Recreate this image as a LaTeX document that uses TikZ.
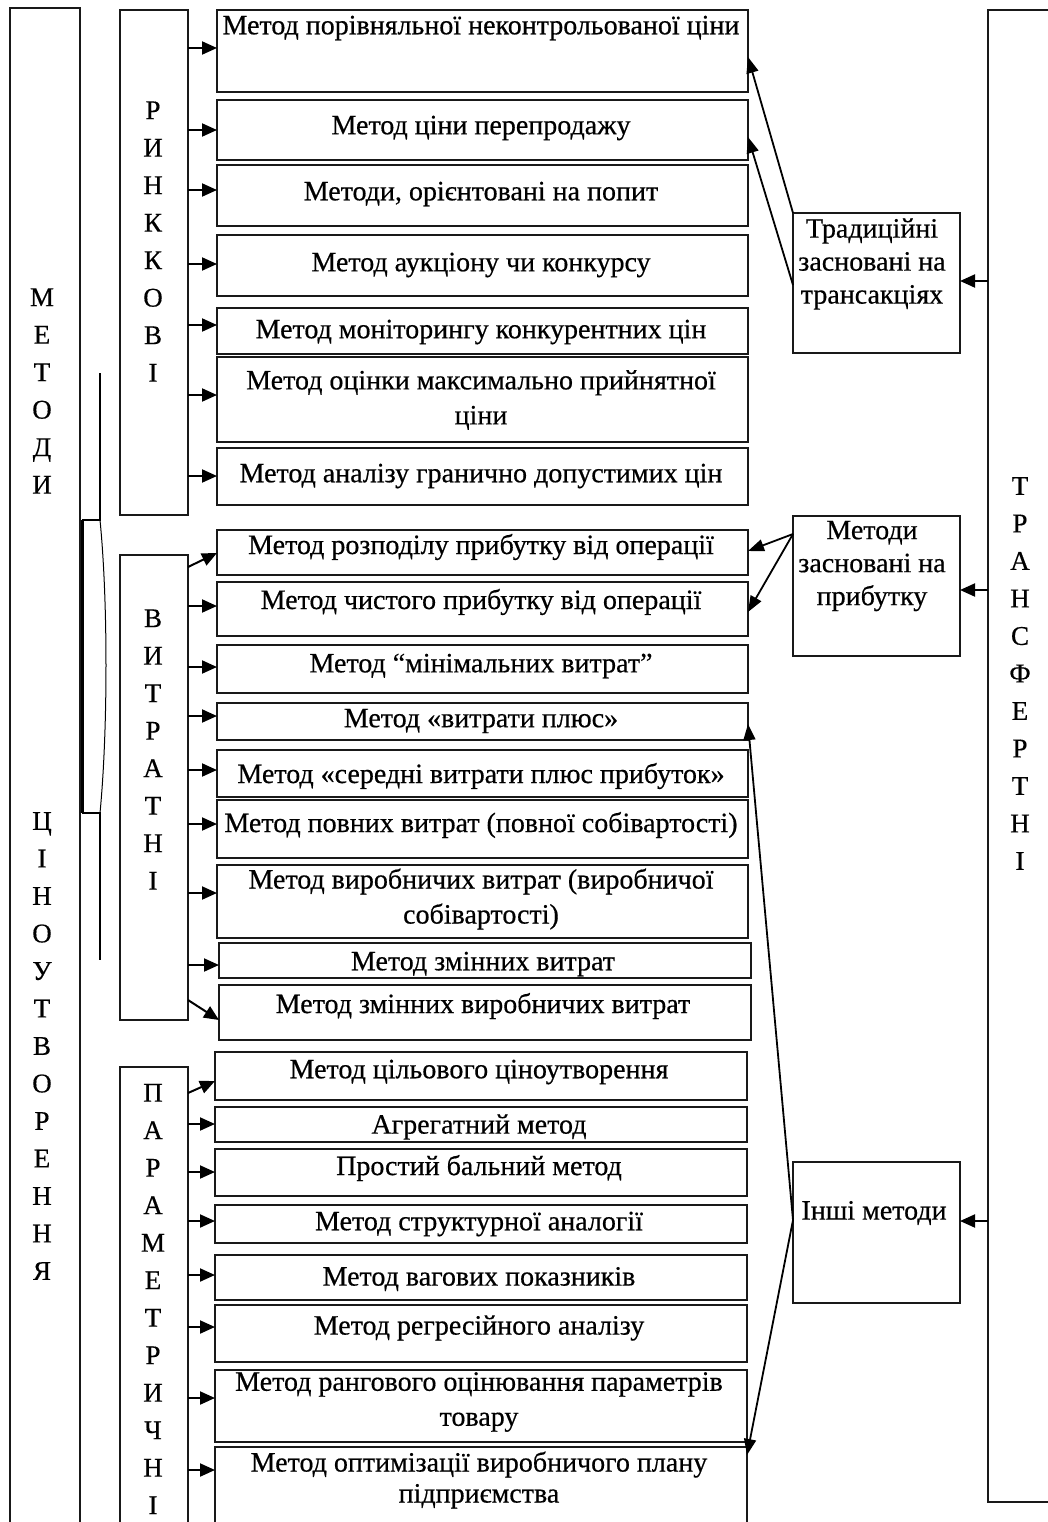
\documentclass[tikz,border=0pt]{standalone}
\usepackage{fontspec}
\setmainfont{Liberation Serif}[FakeBold=0.5]
\usetikzlibrary{arrows.meta}
\newcommand\fsz{\fontsize{28}{35}\selectfont}
\newcommand\vfsz{\fontsize{27}{37.5}\selectfont}
\newcommand\rfsz{\fontsize{28}{33}\selectfont}
\newcommand\bx[5]{\node[box, minimum width={(#4-#2)*1pt}, minimum height={(#5-#3)*1pt}] (#1) at ({(#2+#4)/2},{(#3+#5)/2}) {};}
\begin{document}
\begin{tikzpicture}[x=1pt,y=-1pt,
  box/.style={draw=black!90, line width=2.1pt, inner sep=0pt, outer sep=0pt},
  txt/.style={font=\fsz, inner sep=0pt, align=center},
  vtxt/.style={font=\vfsz, inner sep=0pt, align=center},
  rtxt/.style={font=\rfsz, inner sep=0pt, align=center},
  arr/.style={line width=2pt, -{Triangle[length=15pt,width=13pt]}},
  link/.style={line width=1.8pt, -{Triangle[length=16pt,width=12pt]}}]
\useasboundingbox (0,0) rectangle (1048,1522);
\fill[white] (0,0) rectangle (1048,1522);

% big side boxes
\bx{meth}{10}{8}{80}{1545}
\bx{trans}{988}{10}{1070}{1502}
\node[vtxt] (methA) at (42,391) {М\\Е\\Т\\О\\Д\\И};
\node[vtxt] (methB) at (42,1046) {Ц\\І\\Н\\О\\У\\Т\\В\\О\\Р\\Е\\Н\\Н\\Я};
\node[vtxt] (transT) at (1020,673.5) {Т\\Р\\А\\Н\\С\\Ф\\Е\\Р\\Т\\Н\\І};

% bracket
\draw[line width=1.6pt] (100,373) -- (100,520) -- (82,520);
\draw[line width=3pt] (82,520) -- (82,813);
\draw[line width=1.6pt] (82,813) -- (100,813) -- (100,960);
\draw[line width=1pt] (100,520) .. controls (108,600) and (108,730) .. (100,813);

% category boxes
\bx{rink}{120}{10}{188}{515}
\bx{vitr}{120}{555}{188}{1020}
\bx{param}{120}{1067}{188}{1545}
\node[vtxt] (rinkT) at (153,241.5) {Р\\И\\Н\\К\\К\\О\\В\\І};
\node[vtxt] (vitrT) at (153,749.5) {В\\И\\Т\\Р\\А\\Т\\Н\\І};
\node[vtxt] (paramT) at (153,1299) {П\\А\\Р\\А\\М\\Е\\Т\\Р\\И\\Ч\\Н\\І};

% method boxes
\bx{m1}{217}{10}{748}{92}
\bx{m2}{217}{100}{748}{160}
\bx{m3}{217}{165}{748}{226}
\bx{m4}{217}{235}{748}{296}
\bx{m5}{217}{308}{748}{354}
\bx{m6}{217}{357}{748}{442}
\bx{m7}{217}{448}{748}{505}
\bx{m8}{217}{530}{748}{575}
\bx{m9}{217}{582}{748}{636}
\bx{m10}{217}{645}{748}{693}
\bx{m11}{217}{703}{748}{740}
\bx{m12}{217}{750}{748}{797}
\bx{m13}{217}{800}{748}{858}
\bx{m14}{217}{865}{748}{938}
\bx{m15}{219}{943}{751}{978}
\bx{m16}{219}{985}{751}{1040}
\bx{m17}{215}{1052}{747}{1100}
\bx{m18}{215}{1107}{747}{1142}
\bx{m19}{215}{1149}{747}{1196}
\bx{m20}{215}{1205}{747}{1243}
\bx{m21}{215}{1255}{747}{1300}
\bx{m22}{215}{1305}{747}{1362}
\bx{m23}{215}{1370}{747}{1442}
\bx{m24}{215}{1447}{747}{1545}

\node[txt] (t1) at (481,28) {Метод порівняльної неконтрольованої ціни};
\node[txt] (t2) at (481,128) {Метод ціни перепродажу};
\node[txt] (t3) at (481,194) {Методи, орієнтовані на попит};
\node[txt] (t4) at (481,265) {Метод аукціону чи конкурсу};
\node[txt] (t5) at (481,332) {Метод моніторингу конкурентних цін};
\node[txt] (t6) at (481,400) {Метод оцінки максимально прийнятної\\ціни};
\node[txt] (t7) at (481,476) {Метод аналізу гранично допустимих цін};
\node[txt] (t8) at (481,547) {Метод розподілу прибутку від операції};
\node[txt] (t9) at (481,602) {Метод чистого прибутку від операції};
\node[txt] (t10) at (481,666) {Метод “мінімальних витрат”};
\node[txt] (t11) at (481,721) {Метод «витрати плюс»};
\node[txt] (t12) at (481,776) {Метод «середні витрати плюс прибуток»};
\node[txt] (t13) at (481,825) {Метод повних витрат (повної собівартості)};
\node[txt] (t14) at (481,899) {Метод виробничих витрат (виробничої\\собівартості)};
\node[txt] (t15) at (483,964) {Метод змінних витрат};
\node[txt] (t16) at (483,1006) {Метод змінних виробничих витрат};
\node[txt] (t17) at (479,1072) {Метод цільового ціноутворення};
\node[txt] (t18) at (479,1127) {Агрегатний метод};
\node[txt] (t19) at (479,1168) {Простий бальний метод};
\node[txt] (t20) at (479,1224) {Метод структурної аналогії};
\node[txt] (t21) at (479,1279) {Метод вагових показників};
\node[txt] (t22) at (479,1328) {Метод регресійного аналізу};
\node[txt] (t23) at (479,1402) {Метод рангового оцінювання параметрів\\товару};
\node[txt, font=\fontsize{28}{31}\selectfont] (t24) at (479,1480) {Метод оптимізації виробничого плану\\підприємства};

% right group boxes
\bx{trad}{793}{213}{960}{353}
\bx{prof}{793}{516}{960}{656}
\bx{other}{793}{1162}{960}{1303}
\node[rtxt] (tradT) at (872,264) {Традиційні\\засновані на\\трансакціях};
\node[rtxt] (profT) at (872,566) {Методи\\засновані на\\прибутку};
\node[rtxt] (otherT) at (874,1213) {Інші методи};

% arrows from category boxes
\draw[arr] (rink.east |- 0,48) -- (m1.west |- 0,48);
\draw[arr] (rink.east |- 0,130) -- (m2.west |- 0,130);
\draw[arr] (rink.east |- 0,190) -- (m3.west |- 0,190);
\draw[arr] (rink.east |- 0,264) -- (m4.west |- 0,264);
\draw[arr] (rink.east |- 0,325) -- (m5.west |- 0,325);
\draw[arr] (rink.east |- 0,395) -- (m6.west |- 0,395);
\draw[arr] (rink.east |- 0,476) -- (m7.west |- 0,476);

\draw[arr] (vitr.east |- 0,567) -- (m8.west |- 0,553);
\draw[arr] (vitr.east |- 0,606) -- (m9.west |- 0,606);
\draw[arr] (vitr.east |- 0,667) -- (m10.west |- 0,667);
\draw[arr] (vitr.east |- 0,716) -- (m11.west |- 0,716);
\draw[arr] (vitr.east |- 0,770) -- (m12.west |- 0,770);
\draw[arr] (vitr.east |- 0,824) -- (m13.west |- 0,824);
\draw[arr] (vitr.east |- 0,893) -- (m14.west |- 0,893);
\draw[arr] (vitr.east |- 0,965) -- (m15.west |- 0,965);
\draw[arr] (vitr.east |- 0,1000) -- (m16.west |- 0,1020);

\draw[arr] (param.east |- 0,1093) -- (m17.west |- 0,1081);
\draw[arr] (param.east |- 0,1124) -- (m18.west |- 0,1124);
\draw[arr] (param.east |- 0,1172) -- (m19.west |- 0,1172);
\draw[arr] (param.east |- 0,1221) -- (m20.west |- 0,1221);
\draw[arr] (param.east |- 0,1275) -- (m21.west |- 0,1275);
\draw[arr] (param.east |- 0,1327) -- (m22.west |- 0,1327);
\draw[arr] (param.east |- 0,1398) -- (m23.west |- 0,1398);
\draw[arr] (param.east |- 0,1470) -- (m24.west |- 0,1470);

% arrows from ТРАНСФЕРТНІ
\draw[arr] (trans.west |- 0,281) -- (trad.east |- 0,281);
\draw[arr] (trans.west |- 0,590) -- (prof.east |- 0,590);
\draw[arr] (trans.west |- 0,1221) -- (other.east |- 0,1221);

% arrows from group boxes to methods
\draw[link] (trad.north west) -- (m1.east |- 0,57);
\draw[link] (trad.west |- 0,285) -- (m2.east |- 0,137);
\draw[link] (prof.west |- 0,534) -- (m8.east |- 0,551);
\draw[link] (prof.west |- 0,534) -- (m9.east |- 0,612);
\draw[link] (other.west |- 0,1220) -- (m11.east |- 0,724);
\draw[link] (other.west |- 0,1220) -- (m24.east |- 0,1455);
\end{tikzpicture}
\end{document}
